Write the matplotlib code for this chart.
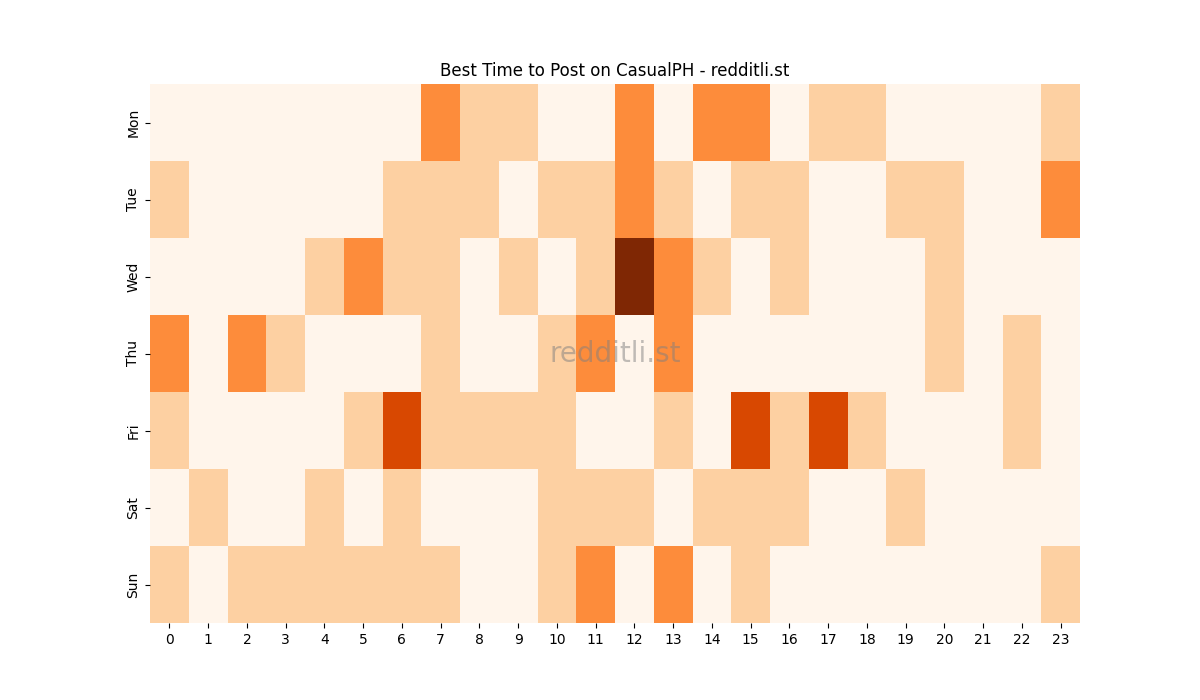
#!/usr/bin/env python
import numpy as np
import matplotlib
matplotlib.use('Agg')
import matplotlib.pyplot as plt
import seaborn as sns

days = ['Mon', 'Tue', 'Wed', 'Thu', 'Fri', 'Sat', 'Sun']
hours = list(range(24))

# post counts per (day, hour)
mon = [0, 0, 0, 0, 0, 0, 0, 2, 1, 1, 0, 0, 2, 0, 2, 2, 0, 1, 1, 0, 0, 0, 0, 1]
tue = [1, 0, 0, 0, 0, 0, 1, 1, 1, 0, 1, 1, 2, 1, 0, 1, 1, 0, 0, 1, 1, 0, 0, 2]
wed = [0, 0, 0, 0, 1, 2, 1, 1, 0, 1, 0, 1, 4, 2, 1, 0, 1, 0, 0, 0, 1, 0, 0, 0]
thu = [2, 0, 2, 1, 0, 0, 0, 1, 0, 0, 1, 2, 0, 2, 0, 0, 0, 0, 0, 0, 1, 0, 1, 0]
fri = [1, 0, 0, 0, 0, 1, 3, 1, 1, 1, 1, 0, 0, 1, 0, 3, 1, 3, 1, 0, 0, 0, 1, 0]
sat = [0, 1, 0, 0, 1, 0, 1, 0, 0, 0, 1, 1, 1, 0, 1, 1, 1, 0, 0, 1, 0, 0, 0, 0]
sun = [1, 0, 1, 1, 1, 1, 1, 1, 0, 0, 1, 2, 0, 2, 0, 1, 0, 0, 0, 0, 0, 0, 0, 1]

data = np.array([mon, tue, wed, thu, fri, sat, sun])

fig, ax = plt.subplots(figsize=(12, 7), dpi=100)
sns.heatmap(data, cmap='Oranges', cbar=False, ax=ax,
            xticklabels=hours, yticklabels=days)
ax.set_title('Best Time to Post on CasualPH - redditli.st')
ax.text(0.5, 0.5, 'redditli.st', transform=ax.transAxes, fontsize=20,
        color='gray', alpha=0.5, ha='center', va='center')
plt.savefig('out.png')
